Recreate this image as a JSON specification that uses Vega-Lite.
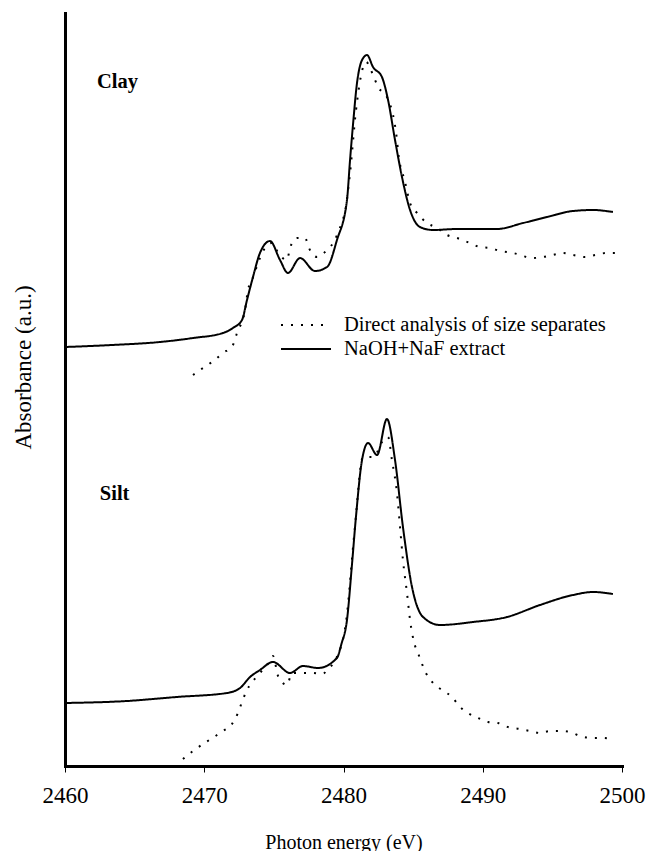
{
  "$schema": "https://vega.github.io/schema/vega-lite/v6.json",
  "width": 557,
  "height": 753,
  "autosize": "none",
  "padding": {"left": 65, "top": 13, "right": 25, "bottom": 85},
  "background": "white",
  "config": {
    "view": {"stroke": null},
    "font": "Liberation Serif"
  },
  "datasets": {
    "spectra": [
      {"sample": "Clay", "method": "NaOH+NaF extract", "energy": 2460.0, "absorbance": 4.19},
      {"sample": "Clay", "method": "NaOH+NaF extract", "energy": 2463.4, "absorbance": 4.21},
      {"sample": "Clay", "method": "NaOH+NaF extract", "energy": 2466.82, "absorbance": 4.24},
      {"sample": "Clay", "method": "NaOH+NaF extract", "energy": 2469.2, "absorbance": 4.28},
      {"sample": "Clay", "method": "NaOH+NaF extract", "energy": 2471.35, "absorbance": 4.33},
      {"sample": "Clay", "method": "NaOH+NaF extract", "energy": 2472.06, "absorbance": 4.38},
      {"sample": "Clay", "method": "NaOH+NaF extract", "energy": 2472.71, "absorbance": 4.46},
      {"sample": "Clay", "method": "NaOH+NaF extract", "energy": 2473.07, "absorbance": 4.66},
      {"sample": "Clay", "method": "NaOH+NaF extract", "energy": 2473.5, "absorbance": 4.89},
      {"sample": "Clay", "method": "NaOH+NaF extract", "energy": 2474.0, "absorbance": 5.13},
      {"sample": "Clay", "method": "NaOH+NaF extract", "energy": 2474.72, "absorbance": 5.25},
      {"sample": "Clay", "method": "NaOH+NaF extract", "energy": 2475.44, "absorbance": 5.06},
      {"sample": "Clay", "method": "NaOH+NaF extract", "energy": 2476.01, "absorbance": 4.93},
      {"sample": "Clay", "method": "NaOH+NaF extract", "energy": 2476.88, "absorbance": 5.08},
      {"sample": "Clay", "method": "NaOH+NaF extract", "energy": 2477.95, "absorbance": 4.95},
      {"sample": "Clay", "method": "NaOH+NaF extract", "energy": 2478.82, "absorbance": 4.99},
      {"sample": "Clay", "method": "NaOH+NaF extract", "energy": 2479.53, "absorbance": 5.26},
      {"sample": "Clay", "method": "NaOH+NaF extract", "energy": 2480.25, "absorbance": 5.66},
      {"sample": "Clay", "method": "NaOH+NaF extract", "energy": 2480.47, "absorbance": 6.06},
      {"sample": "Clay", "method": "NaOH+NaF extract", "energy": 2480.68, "absorbance": 6.41},
      {"sample": "Clay", "method": "NaOH+NaF extract", "energy": 2480.97, "absorbance": 6.83},
      {"sample": "Clay", "method": "NaOH+NaF extract", "energy": 2481.3, "absorbance": 7.05},
      {"sample": "Clay", "method": "NaOH+NaF extract", "energy": 2481.69, "absorbance": 7.11},
      {"sample": "Clay", "method": "NaOH+NaF extract", "energy": 2482.12, "absorbance": 6.99},
      {"sample": "Clay", "method": "NaOH+NaF extract", "energy": 2482.76, "absorbance": 6.89},
      {"sample": "Clay", "method": "NaOH+NaF extract", "energy": 2483.2, "absorbance": 6.66},
      {"sample": "Clay", "method": "NaOH+NaF extract", "energy": 2483.7, "absorbance": 6.26},
      {"sample": "Clay", "method": "NaOH+NaF extract", "energy": 2484.2, "absorbance": 5.89},
      {"sample": "Clay", "method": "NaOH+NaF extract", "energy": 2484.78, "absorbance": 5.56},
      {"sample": "Clay", "method": "NaOH+NaF extract", "energy": 2485.49, "absorbance": 5.39},
      {"sample": "Clay", "method": "NaOH+NaF extract", "energy": 2486.43, "absorbance": 5.36},
      {"sample": "Clay", "method": "NaOH+NaF extract", "energy": 2488.15, "absorbance": 5.37},
      {"sample": "Clay", "method": "NaOH+NaF extract", "energy": 2491.02, "absorbance": 5.37},
      {"sample": "Clay", "method": "NaOH+NaF extract", "energy": 2492.89, "absorbance": 5.43},
      {"sample": "Clay", "method": "NaOH+NaF extract", "energy": 2494.61, "absorbance": 5.49},
      {"sample": "Clay", "method": "NaOH+NaF extract", "energy": 2496.48, "absorbance": 5.55},
      {"sample": "Clay", "method": "NaOH+NaF extract", "energy": 2497.92, "absorbance": 5.56},
      {"sample": "Clay", "method": "NaOH+NaF extract", "energy": 2499.35, "absorbance": 5.54},

      {"sample": "Clay", "method": "Direct analysis of size separates", "energy": 2469.19, "absorbance": 3.91},
      {"sample": "Clay", "method": "Direct analysis of size separates", "energy": 2469.91, "absorbance": 3.98},
      {"sample": "Clay", "method": "Direct analysis of size separates", "energy": 2470.56, "absorbance": 4.04},
      {"sample": "Clay", "method": "Direct analysis of size separates", "energy": 2471.35, "absorbance": 4.13},
      {"sample": "Clay", "method": "Direct analysis of size separates", "energy": 2472.06, "absorbance": 4.21},
      {"sample": "Clay", "method": "Direct analysis of size separates", "energy": 2472.35, "absorbance": 4.33},
      {"sample": "Clay", "method": "Direct analysis of size separates", "energy": 2472.93, "absorbance": 4.56},
      {"sample": "Clay", "method": "Direct analysis of size separates", "energy": 2473.14, "absorbance": 4.76},
      {"sample": "Clay", "method": "Direct analysis of size separates", "energy": 2473.43, "absorbance": 4.86},
      {"sample": "Clay", "method": "Direct analysis of size separates", "energy": 2474.0, "absorbance": 5.08},
      {"sample": "Clay", "method": "Direct analysis of size separates", "energy": 2474.36, "absorbance": 5.18},
      {"sample": "Clay", "method": "Direct analysis of size separates", "energy": 2474.85, "absorbance": 5.23},
      {"sample": "Clay", "method": "Direct analysis of size separates", "energy": 2475.4, "absorbance": 5.11},
      {"sample": "Clay", "method": "Direct analysis of size separates", "energy": 2475.94, "absorbance": 5.06},
      {"sample": "Clay", "method": "Direct analysis of size separates", "energy": 2476.16, "absorbance": 5.18},
      {"sample": "Clay", "method": "Direct analysis of size separates", "energy": 2476.66, "absorbance": 5.28},
      {"sample": "Clay", "method": "Direct analysis of size separates", "energy": 2477.24, "absorbance": 5.28},
      {"sample": "Clay", "method": "Direct analysis of size separates", "energy": 2477.52, "absorbance": 5.18},
      {"sample": "Clay", "method": "Direct analysis of size separates", "energy": 2478.1, "absorbance": 5.09},
      {"sample": "Clay", "method": "Direct analysis of size separates", "energy": 2478.67, "absorbance": 5.14},
      {"sample": "Clay", "method": "Direct analysis of size separates", "energy": 2479.25, "absorbance": 5.23},
      {"sample": "Clay", "method": "Direct analysis of size separates", "energy": 2479.89, "absorbance": 5.44},
      {"sample": "Clay", "method": "Direct analysis of size separates", "energy": 2480.11, "absorbance": 5.54},
      {"sample": "Clay", "method": "Direct analysis of size separates", "energy": 2480.47, "absorbance": 5.93},
      {"sample": "Clay", "method": "Direct analysis of size separates", "energy": 2480.9, "absorbance": 6.56},
      {"sample": "Clay", "method": "Direct analysis of size separates", "energy": 2481.62, "absorbance": 7.04},
      {"sample": "Clay", "method": "Direct analysis of size separates", "energy": 2482.12, "absorbance": 6.91},
      {"sample": "Clay", "method": "Direct analysis of size separates", "energy": 2482.48, "absorbance": 6.79},
      {"sample": "Clay", "method": "Direct analysis of size separates", "energy": 2483.12, "absorbance": 6.69},
      {"sample": "Clay", "method": "Direct analysis of size separates", "energy": 2483.84, "absorbance": 6.26},
      {"sample": "Clay", "method": "Direct analysis of size separates", "energy": 2483.91, "absorbance": 6.16},
      {"sample": "Clay", "method": "Direct analysis of size separates", "energy": 2484.42, "absorbance": 5.84},
      {"sample": "Clay", "method": "Direct analysis of size separates", "energy": 2484.78, "absorbance": 5.63},
      {"sample": "Clay", "method": "Direct analysis of size separates", "energy": 2485.28, "absorbance": 5.53},
      {"sample": "Clay", "method": "Direct analysis of size separates", "energy": 2486.0, "absorbance": 5.43},
      {"sample": "Clay", "method": "Direct analysis of size separates", "energy": 2486.71, "absorbance": 5.38},
      {"sample": "Clay", "method": "Direct analysis of size separates", "energy": 2487.43, "absorbance": 5.31},
      {"sample": "Clay", "method": "Direct analysis of size separates", "energy": 2488.15, "absorbance": 5.28},
      {"sample": "Clay", "method": "Direct analysis of size separates", "energy": 2489.08, "absorbance": 5.23},
      {"sample": "Clay", "method": "Direct analysis of size separates", "energy": 2489.8, "absorbance": 5.19},
      {"sample": "Clay", "method": "Direct analysis of size separates", "energy": 2490.52, "absorbance": 5.18},
      {"sample": "Clay", "method": "Direct analysis of size separates", "energy": 2491.24, "absorbance": 5.15},
      {"sample": "Clay", "method": "Direct analysis of size separates", "energy": 2492.17, "absorbance": 5.13},
      {"sample": "Clay", "method": "Direct analysis of size separates", "energy": 2493.61, "absorbance": 5.08},
      {"sample": "Clay", "method": "Direct analysis of size separates", "energy": 2494.33, "absorbance": 5.09},
      {"sample": "Clay", "method": "Direct analysis of size separates", "energy": 2495.04, "absorbance": 5.11},
      {"sample": "Clay", "method": "Direct analysis of size separates", "energy": 2495.76, "absorbance": 5.13},
      {"sample": "Clay", "method": "Direct analysis of size separates", "energy": 2496.48, "absorbance": 5.11},
      {"sample": "Clay", "method": "Direct analysis of size separates", "energy": 2497.34, "absorbance": 5.09},
      {"sample": "Clay", "method": "Direct analysis of size separates", "energy": 2498.06, "absorbance": 5.11},
      {"sample": "Clay", "method": "Direct analysis of size separates", "energy": 2498.92, "absorbance": 5.13},
      {"sample": "Clay", "method": "Direct analysis of size separates", "energy": 2499.64, "absorbance": 5.13},

      {"sample": "Silt", "method": "NaOH+NaF extract", "energy": 2460.0, "absorbance": 0.63},
      {"sample": "Silt", "method": "NaOH+NaF extract", "energy": 2464.45, "absorbance": 0.65},
      {"sample": "Silt", "method": "NaOH+NaF extract", "energy": 2468.0, "absorbance": 0.69},
      {"sample": "Silt", "method": "NaOH+NaF extract", "energy": 2471.63, "absorbance": 0.73},
      {"sample": "Silt", "method": "NaOH+NaF extract", "energy": 2472.57, "absorbance": 0.78},
      {"sample": "Silt", "method": "NaOH+NaF extract", "energy": 2473.29, "absorbance": 0.89},
      {"sample": "Silt", "method": "NaOH+NaF extract", "energy": 2474.0, "absorbance": 0.96},
      {"sample": "Silt", "method": "NaOH+NaF extract", "energy": 2474.94, "absorbance": 1.04},
      {"sample": "Silt", "method": "NaOH+NaF extract", "energy": 2476.16, "absorbance": 0.93},
      {"sample": "Silt", "method": "NaOH+NaF extract", "energy": 2477.09, "absorbance": 1.0},
      {"sample": "Silt", "method": "NaOH+NaF extract", "energy": 2478.17, "absorbance": 0.98},
      {"sample": "Silt", "method": "NaOH+NaF extract", "energy": 2479.53, "absorbance": 1.08},
      {"sample": "Silt", "method": "NaOH+NaF extract", "energy": 2479.85, "absorbance": 1.22},
      {"sample": "Silt", "method": "NaOH+NaF extract", "energy": 2480.25, "absorbance": 1.46},
      {"sample": "Silt", "method": "NaOH+NaF extract", "energy": 2480.6, "absorbance": 2.0},
      {"sample": "Silt", "method": "NaOH+NaF extract", "energy": 2480.9, "absorbance": 2.5},
      {"sample": "Silt", "method": "NaOH+NaF extract", "energy": 2481.33, "absorbance": 3.06},
      {"sample": "Silt", "method": "NaOH+NaF extract", "energy": 2481.76, "absorbance": 3.23},
      {"sample": "Silt", "method": "NaOH+NaF extract", "energy": 2482.41, "absorbance": 3.11},
      {"sample": "Silt", "method": "NaOH+NaF extract", "energy": 2483.12, "absorbance": 3.47},
      {"sample": "Silt", "method": "NaOH+NaF extract", "energy": 2483.7, "absorbance": 3.06},
      {"sample": "Silt", "method": "NaOH+NaF extract", "energy": 2484.27, "absorbance": 2.39},
      {"sample": "Silt", "method": "NaOH+NaF extract", "energy": 2484.92, "absorbance": 1.79},
      {"sample": "Silt", "method": "NaOH+NaF extract", "energy": 2485.71, "absorbance": 1.49},
      {"sample": "Silt", "method": "NaOH+NaF extract", "energy": 2486.93, "absorbance": 1.41},
      {"sample": "Silt", "method": "NaOH+NaF extract", "energy": 2489.3, "absorbance": 1.44},
      {"sample": "Silt", "method": "NaOH+NaF extract", "energy": 2491.74, "absorbance": 1.49},
      {"sample": "Silt", "method": "NaOH+NaF extract", "energy": 2494.11, "absorbance": 1.61},
      {"sample": "Silt", "method": "NaOH+NaF extract", "energy": 2496.48, "absorbance": 1.71},
      {"sample": "Silt", "method": "NaOH+NaF extract", "energy": 2497.92, "absorbance": 1.74},
      {"sample": "Silt", "method": "NaOH+NaF extract", "energy": 2499.35, "absorbance": 1.72},

      {"sample": "Silt", "method": "Direct analysis of size separates", "energy": 2468.47, "absorbance": 0.07},
      {"sample": "Silt", "method": "Direct analysis of size separates", "energy": 2469.19, "absorbance": 0.15},
      {"sample": "Silt", "method": "Direct analysis of size separates", "energy": 2469.91, "absorbance": 0.22},
      {"sample": "Silt", "method": "Direct analysis of size separates", "energy": 2470.7, "absorbance": 0.29},
      {"sample": "Silt", "method": "Direct analysis of size separates", "energy": 2471.35, "absorbance": 0.35},
      {"sample": "Silt", "method": "Direct analysis of size separates", "energy": 2471.99, "absorbance": 0.42},
      {"sample": "Silt", "method": "Direct analysis of size separates", "energy": 2472.42, "absorbance": 0.53},
      {"sample": "Silt", "method": "Direct analysis of size separates", "energy": 2472.71, "absorbance": 0.64},
      {"sample": "Silt", "method": "Direct analysis of size separates", "energy": 2473.0, "absorbance": 0.74},
      {"sample": "Silt", "method": "Direct analysis of size separates", "energy": 2473.8, "absorbance": 0.9},
      {"sample": "Silt", "method": "Direct analysis of size separates", "energy": 2474.51, "absorbance": 1.01},
      {"sample": "Silt", "method": "Direct analysis of size separates", "energy": 2474.94, "absorbance": 1.1},
      {"sample": "Silt", "method": "Direct analysis of size separates", "energy": 2475.3, "absorbance": 0.9},
      {"sample": "Silt", "method": "Direct analysis of size separates", "energy": 2475.94, "absorbance": 0.81},
      {"sample": "Silt", "method": "Direct analysis of size separates", "energy": 2476.3, "absorbance": 0.93},
      {"sample": "Silt", "method": "Direct analysis of size separates", "energy": 2477.74, "absorbance": 0.93},
      {"sample": "Silt", "method": "Direct analysis of size separates", "energy": 2478.46, "absorbance": 0.92},
      {"sample": "Silt", "method": "Direct analysis of size separates", "energy": 2478.96, "absorbance": 0.98},
      {"sample": "Silt", "method": "Direct analysis of size separates", "energy": 2479.46, "absorbance": 1.07},
      {"sample": "Silt", "method": "Direct analysis of size separates", "energy": 2480.2, "absorbance": 1.46},
      {"sample": "Silt", "method": "Direct analysis of size separates", "energy": 2480.8, "absorbance": 2.36},
      {"sample": "Silt", "method": "Direct analysis of size separates", "energy": 2481.4, "absorbance": 3.09},
      {"sample": "Silt", "method": "Direct analysis of size separates", "energy": 2482.12, "absorbance": 3.09},
      {"sample": "Silt", "method": "Direct analysis of size separates", "energy": 2482.98, "absorbance": 3.28},
      {"sample": "Silt", "method": "Direct analysis of size separates", "energy": 2483.2, "absorbance": 3.29},
      {"sample": "Silt", "method": "Direct analysis of size separates", "energy": 2483.48, "absorbance": 3.06},
      {"sample": "Silt", "method": "Direct analysis of size separates", "energy": 2483.84, "absorbance": 2.73},
      {"sample": "Silt", "method": "Direct analysis of size separates", "energy": 2484.06, "absorbance": 2.39},
      {"sample": "Silt", "method": "Direct analysis of size separates", "energy": 2484.27, "absorbance": 2.06},
      {"sample": "Silt", "method": "Direct analysis of size separates", "energy": 2484.56, "absorbance": 1.73},
      {"sample": "Silt", "method": "Direct analysis of size separates", "energy": 2484.78, "absorbance": 1.46},
      {"sample": "Silt", "method": "Direct analysis of size separates", "energy": 2485.06, "absorbance": 1.24},
      {"sample": "Silt", "method": "Direct analysis of size separates", "energy": 2485.35, "absorbance": 1.13},
      {"sample": "Silt", "method": "Direct analysis of size separates", "energy": 2485.92, "absorbance": 0.93},
      {"sample": "Silt", "method": "Direct analysis of size separates", "energy": 2486.43, "absorbance": 0.83},
      {"sample": "Silt", "method": "Direct analysis of size separates", "energy": 2487.07, "absorbance": 0.76},
      {"sample": "Silt", "method": "Direct analysis of size separates", "energy": 2487.79, "absorbance": 0.69},
      {"sample": "Silt", "method": "Direct analysis of size separates", "energy": 2488.37, "absorbance": 0.59},
      {"sample": "Silt", "method": "Direct analysis of size separates", "energy": 2488.94, "absorbance": 0.53},
      {"sample": "Silt", "method": "Direct analysis of size separates", "energy": 2489.66, "absorbance": 0.48},
      {"sample": "Silt", "method": "Direct analysis of size separates", "energy": 2490.38, "absorbance": 0.44},
      {"sample": "Silt", "method": "Direct analysis of size separates", "energy": 2491.09, "absorbance": 0.43},
      {"sample": "Silt", "method": "Direct analysis of size separates", "energy": 2491.81, "absorbance": 0.39},
      {"sample": "Silt", "method": "Direct analysis of size separates", "energy": 2492.68, "absorbance": 0.37},
      {"sample": "Silt", "method": "Direct analysis of size separates", "energy": 2493.39, "absorbance": 0.35},
      {"sample": "Silt", "method": "Direct analysis of size separates", "energy": 2494.11, "absorbance": 0.33},
      {"sample": "Silt", "method": "Direct analysis of size separates", "energy": 2494.83, "absorbance": 0.35},
      {"sample": "Silt", "method": "Direct analysis of size separates", "energy": 2495.55, "absorbance": 0.35},
      {"sample": "Silt", "method": "Direct analysis of size separates", "energy": 2496.27, "absorbance": 0.34},
      {"sample": "Silt", "method": "Direct analysis of size separates", "energy": 2496.98, "absorbance": 0.3},
      {"sample": "Silt", "method": "Direct analysis of size separates", "energy": 2497.85, "absorbance": 0.28},
      {"sample": "Silt", "method": "Direct analysis of size separates", "energy": 2498.56, "absorbance": 0.28},
      {"sample": "Silt", "method": "Direct analysis of size separates", "energy": 2499.28, "absorbance": 0.27}
    ],
    "labels": [
      {"label": "Clay", "energy": 2462.3, "absorbance": 6.78},
      {"label": "Silt", "energy": 2462.5, "absorbance": 2.66}
    ]
  },
  "layer": [
    {
      "data": {"name": "spectra"},
      "mark": {"type": "line", "interpolate": "monotone", "color": "black", "strokeWidth": 2, "strokeCap": "butt"},
      "encoding": {
        "x": {
          "field": "energy", "type": "quantitative",
          "scale": {"domain": [2460, 2500], "nice": false, "zero": false},
          "axis": {
            "values": [2460, 2470, 2480, 2490, 2500],
            "format": "d",
            "grid": false,
            "domainColor": "black", "domainWidth": 3, "domainCap": "square",
            "tickColor": "black", "tickSize": 6, "tickWidth": 1,
            "labelFont": "Liberation Serif", "labelFontSize": 23, "labelColor": "black",
            "labelPadding": 12, "labelFlush": false,
            "title": "Photon energy (eV)",
            "titleFont": "Liberation Serif", "titleFontSize": 20, "titleFontWeight": "normal", "titleColor": "black",
            "titleBaseline": "alphabetic", "titleY": 82
          }
        },
        "y": {
          "field": "absorbance", "type": "quantitative",
          "scale": {"domain": [0, 7.53], "nice": false, "zero": false},
          "axis": {
            "grid": false, "ticks": false, "labels": false,
            "domainColor": "black", "domainWidth": 3, "domainCap": "square",
            "title": "Absorbance (a.u.)",
            "titleFont": "Liberation Serif", "titleFontSize": 23, "titleFontWeight": "normal", "titleColor": "black",
            "titleAngle": 270, "titleAlign": "center", "titleBaseline": "alphabetic",
            "titleX": -35, "titleY": 354
          }
        },
        "detail": {"field": "sample"},
        "strokeDash": {
          "field": "method", "type": "nominal",
          "scale": {
            "domain": ["Direct analysis of size separates", "NaOH+NaF extract"],
            "range": [[2, 8], [1, 0]]
          },
          "legend": {
            "title": null,
            "orient": "none", "legendX": 215, "legendY": 301,
            "symbolType": "stroke", "symbolSize": 2500, "symbolStrokeWidth": 2, "symbolStrokeColor": "black",
            "clipHeight": 22,
            "labelFont": "Liberation Serif", "labelFontSize": 20.5, "labelColor": "black",
            "labelOffset": 12, "rowPadding": 2, "labelLimit": 400
          }
        }
      }
    },
    {
      "data": {"name": "labels"},
      "mark": {"type": "text", "font": "Liberation Serif", "fontWeight": "bold", "fontSize": 20.5, "align": "left", "baseline": "alphabetic", "color": "black"},
      "encoding": {
        "x": {"field": "energy", "type": "quantitative"},
        "y": {"field": "absorbance", "type": "quantitative"},
        "text": {"field": "label"}
      }
    }
  ]
}
